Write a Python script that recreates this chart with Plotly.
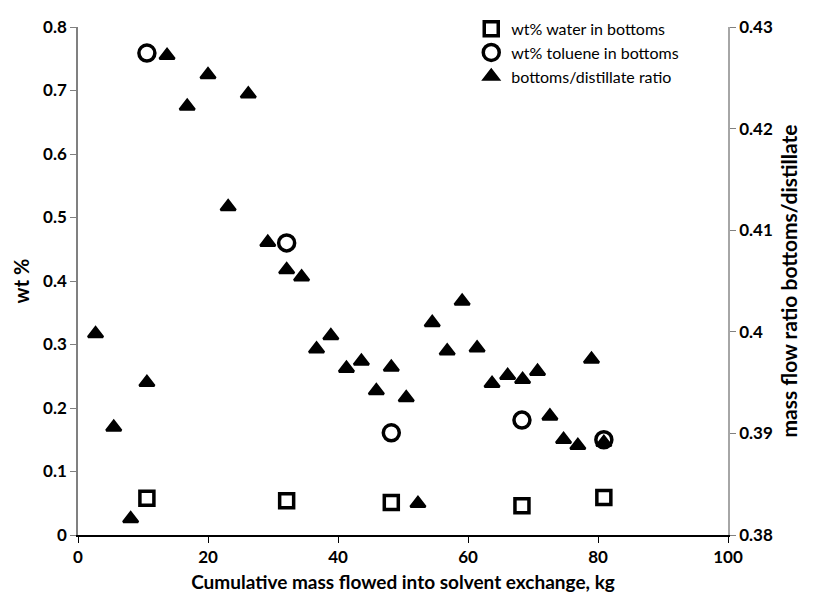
import plotly.graph_objects as go

# Data
water_x = [10.6, 32.1, 48.2, 68.3, 80.9]
water_y = [0.058, 0.054, 0.051, 0.046, 0.059]

toluene_x = [10.6, 32.1, 48.2, 68.3, 80.9]
toluene_y = [0.759, 0.460, 0.161, 0.181, 0.150]

ratio_x = [2.7, 5.5, 8.1, 10.6, 13.7, 16.8, 20.0, 23.1, 26.2, 29.2, 32.1, 34.4,
           36.7, 38.9, 41.3, 43.6, 45.9, 48.2, 50.5, 52.3, 54.5, 56.8, 59.1, 61.4,
           63.7, 66.1, 68.4, 70.7, 72.6, 74.7, 76.9, 79.0, 80.9]
ratio_y = [0.3998, 0.3906, 0.3816, 0.3950, 0.4272, 0.4222, 0.4253, 0.4123, 0.4234,
           0.4088, 0.4061, 0.4054, 0.3983, 0.3996, 0.3964, 0.3971, 0.3942, 0.3965,
           0.3935, 0.3831, 0.4009, 0.3981, 0.4030, 0.3984, 0.3949, 0.3957, 0.3953,
           0.3961, 0.3917, 0.3894, 0.3888, 0.3973, 0.3891]

x_ticks = [0, 20, 40, 60, 80, 100]
y_ticks = [0, 0.1, 0.2, 0.3, 0.4, 0.5, 0.6, 0.7, 0.8]
y_ticktext = ["0", "0.1", "0.2", "0.3", "0.4", "0.5", "0.6", "0.7", "0.8"]
y2_ticks = [0.38, 0.39, 0.40, 0.41, 0.42, 0.43]
y2_ticktext = ["0.38", "0.39", "0.4", "0.41", "0.42", "0.43"]

FONT = "Lato, Arial, sans-serif"

fig = go.Figure()
fig.add_trace(go.Scatter(
    x=water_x, y=water_y, mode="markers", name="wt% water in bottoms",
    marker=dict(symbol="square-open", size=14, color="black", line=dict(width=3.5, color="black")),
))
fig.add_trace(go.Scatter(
    x=toluene_x, y=toluene_y, mode="markers", name="wt% toluene in bottoms",
    marker=dict(symbol="circle-open", size=16, color="black", line=dict(width=3.5, color="black")),
))
fig.add_trace(go.Scatter(
    x=ratio_x, y=ratio_y, mode="markers", name="bottoms/distillate ratio", yaxis="y2",
    marker=dict(symbol="triangle-up", size=13, color="black", line=dict(width=2.5, color="black")),
))

fig.update_layout(
    width=813, height=602,
    margin=dict(l=78, r=85, t=18, b=65),
    paper_bgcolor="white", plot_bgcolor="white",
    font=dict(family=FONT, color="black", size=15),
    showlegend=True,
    legend=dict(x=0.605, y=1.03, xanchor="left", yanchor="top",
                bgcolor="rgba(0,0,0,0)", font=dict(size=16, family=FONT),
                itemsizing="trace", tracegroupgap=0),
    xaxis=dict(range=[0, 100], tickvals=x_ticks, showgrid=False, zeroline=False,
               showline=True, linecolor="black", linewidth=1.5,
               ticks="outside", ticklen=6, tickcolor="black",
               tickfont=dict(size=17, family=FONT, weight="bold"),
               title=dict(text="Cumulative mass flowed into solvent exchange, kg",
                          font=dict(size=19, family=FONT, weight="bold"), standoff=10)),
    yaxis=dict(range=[0, 0.8], tickvals=y_ticks, ticktext=y_ticktext, showgrid=False,
               zeroline=False, showline=True, linecolor="#808080", linewidth=1.5,
               ticks="outside", ticklen=6, tickcolor="#808080",
               tickfont=dict(size=17, family=FONT, weight="bold"),
               title=dict(text="wt %", font=dict(size=20, family=FONT, weight="bold"), standoff=8)),
    yaxis2=dict(range=[0.38, 0.43], tickvals=y2_ticks, ticktext=y2_ticktext, overlaying="y",
                side="right", showgrid=False, zeroline=False, showline=True,
                linecolor="#a6a6a6", linewidth=1.5, ticks="outside", ticklen=6,
                tickcolor="#808080",
                tickfont=dict(size=17, family=FONT, weight="bold"),
                title=dict(text="mass flow ratio bottoms/distillate",
                           font=dict(size=21, family=FONT, weight="bold"), standoff=10)),
)

fig.write_html("out.html")
